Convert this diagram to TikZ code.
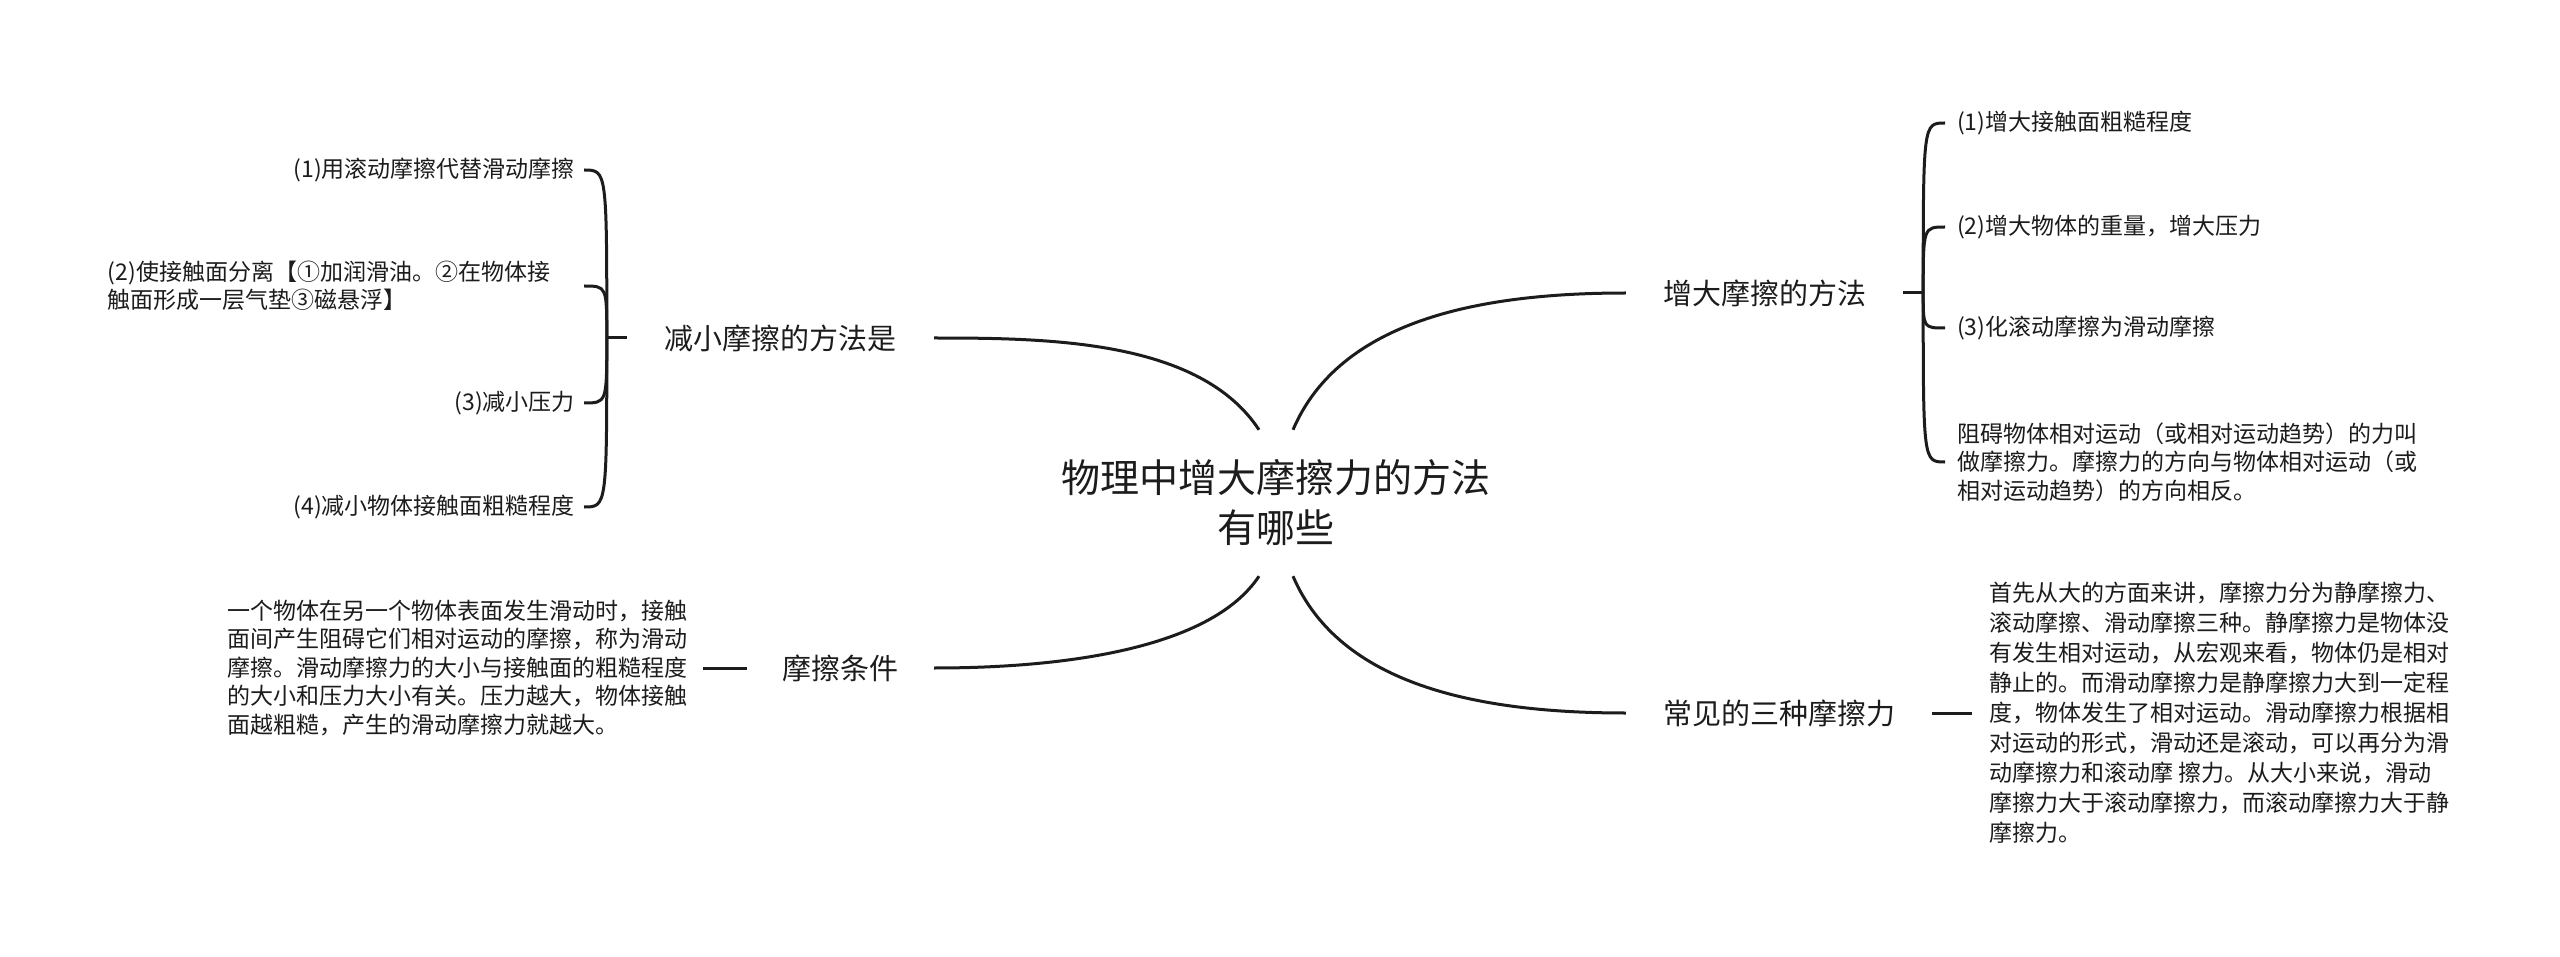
\documentclass[tikz,border=0pt]{standalone}
\usepackage{fontspec}
\newfontfamily\cjk{Noto Sans CJK SC}
\definecolor{ink}{HTML}{1C1C1C}
\begin{document}
\begin{tikzpicture}[x=1pt,y=-1pt,
  conn/.style={draw=ink,line width=3pt},
  titlebox/.style={font=\cjk\fontsize{39}{50}\selectfont,align=center,text=ink,inner sep=0pt,minimum height=146pt},
  branch/.style={font=\cjk\fontsize{29}{35}\selectfont,text=ink,inner sep=0pt,minimum height=36pt},
  leaf/.style={font=\cjk\fontsize{23}{28.5}\selectfont,text=ink,inner ysep=0pt},
]
\fill[white] (0,0) rectangle (2560,957);
\useasboundingbox (0,0) rectangle (2560,957);

\node[titlebox] (root) at (1276,503) {物理中增大摩擦力的方法\\有哪些};

\node[branch,minimum width=307pt] (b1) at (780.5,338) {减小摩擦的方法是};
\node[branch,minimum width=277pt] (b2) at (1764.5,293) {增大摩擦的方法};
\node[branch,minimum width=187pt] (b3) at (840.5,668) {摩擦条件};
\node[branch,minimum width=306pt] (b4) at (1779,713) {常见的三种摩擦力};

\draw[conn] ([xshift=-17pt]root.north) .. controls (1200,340) and (1050,338) .. (b1.east);
\draw[conn] ([xshift=17pt]root.north) .. controls (1340,320) and (1480,293) .. (b2.west);
\draw[conn] ([xshift=-17pt]root.south) .. controls (1210,650) and (1060,668) .. (b3.east);
\draw[conn] ([xshift=17pt]root.south) .. controls (1340,686) and (1480,713) .. (b4.west);

% left bracket
\draw[conn] (b1.west) -- ++(-20,0) coordinate (s1);
\node[leaf,anchor=east,inner xsep=9pt] (l1) at (584,170) {(1)用滚动摩擦代替滑动摩擦};
\node[leaf,anchor=east,inner xsep=9pt,text width=467pt,align=left] (l2) at (584,286) {(2)使接触面分离【①加润滑油。②在物体接\\触面形成一层气垫③磁悬浮】};
\node[leaf,anchor=east,inner xsep=9pt] (l3) at (584,403) {(3)减小压力};
\node[leaf,anchor=east,inner xsep=9pt] (l4) at (584,507) {(4)减小物体接触面粗糙程度};
\foreach \n in {l1,l2,l3,l4} \draw[conn] (s1) .. controls (s1 |- \n.east) .. (\n.east);

% right bracket
\draw[conn] (b2.east) -- ++(20,0) coordinate (s2);
\node[leaf,anchor=west,inner xsep=12pt] (r1) at (1945,123) {(1)增大接触面粗糙程度};
\node[leaf,anchor=west,inner xsep=12pt] (r2) at (1945,227) {(2)增大物体的重量，增大压力};
\node[leaf,anchor=west,inner xsep=12pt] (r3) at (1945,328) {(3)化滚动摩擦为滑动摩擦};
\node[leaf,anchor=west,inner xsep=12pt,align=left] (r4) at (1945,462) {阻碍物体相对运动（或相对运动趋势）的力叫\\做摩擦力。摩擦力的方向与物体相对运动（或\\相对运动趋势）的方向相反。};
\foreach \n in {r1,r2,r3,r4} \draw[conn] (s2) .. controls (s2 |- \n.west) .. (\n.west);

% bottom left paragraph
\node[leaf,anchor=east,inner xsep=15pt,align=left] (p3) at (703,668) {一个物体在另一个物体表面发生滑动时，接触\\面间产生阻碍它们相对运动的摩擦，称为滑动\\摩擦。滑动摩擦力的大小与接触面的粗糙程度\\的大小和压力大小有关。压力越大，物体接触\\面越粗糙，产生的滑动摩擦力就越大。};
\draw[conn] (b3.west) -- (p3.east);

% bottom right paragraph
\node[leaf,anchor=west,inner xsep=17pt,align=left,font=\cjk\fontsize{23}{30}\selectfont] (p4) at (1972,713) {首先从大的方面来讲，摩擦力分为静摩擦力、\\滚动摩擦、滑动摩擦三种。静摩擦力是物体没\\有发生相对运动，从宏观来看，物体仍是相对\\静止的。而滑动摩擦力是静摩擦力大到一定程\\度，物体发生了相对运动。滑动摩擦力根据相\\对运动的形式，滑动还是滚动，可以再分为滑\\动摩擦力和滚动摩 擦力。从大小来说，滑动\\摩擦力大于滚动摩擦力，而滚动摩擦力大于静\\摩擦力。};
\draw[conn] (b4.east) -- (p4.west);
\end{tikzpicture}
\end{document}
